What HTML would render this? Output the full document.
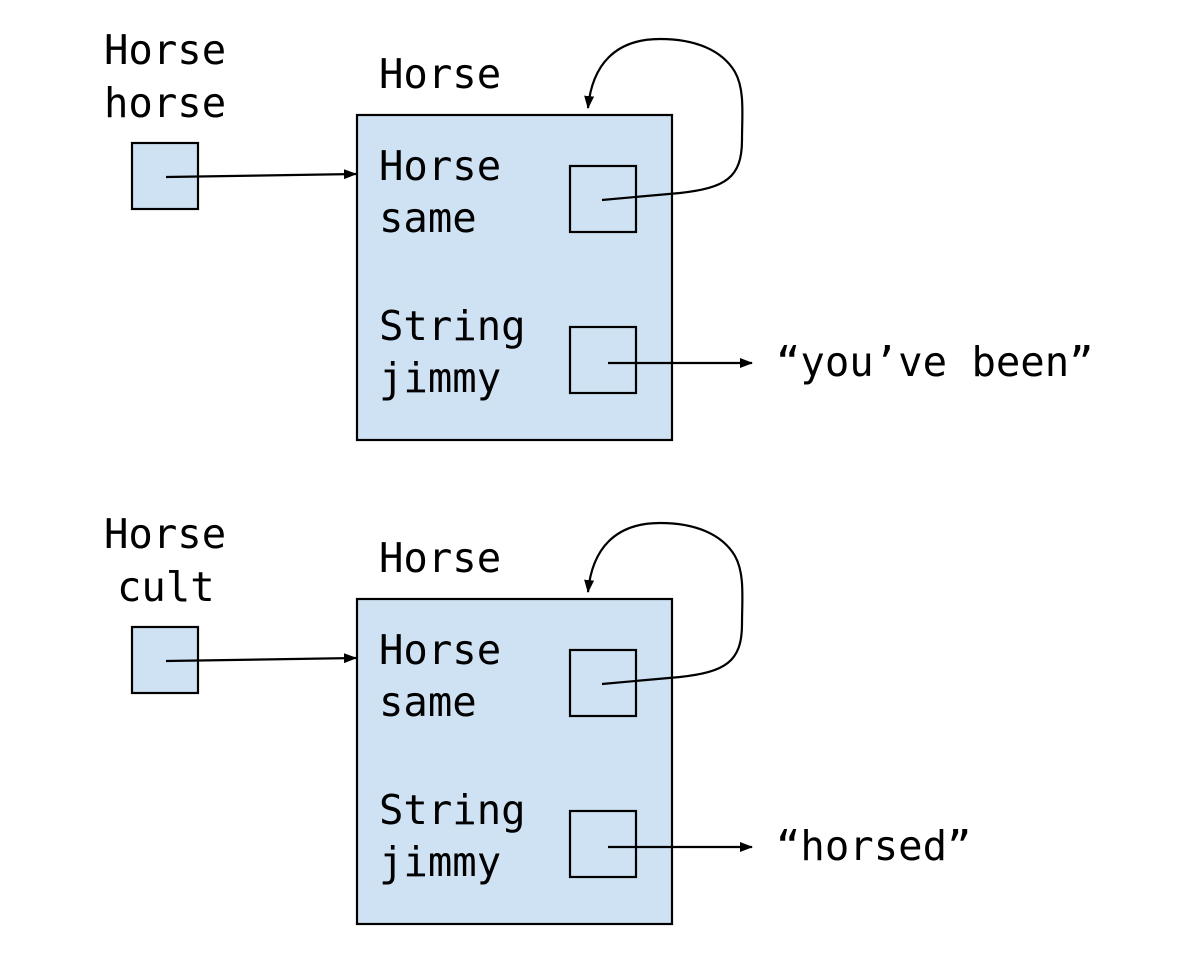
<!DOCTYPE html>
<html><head><meta charset="utf-8"><style>
html,body{margin:0;padding:0;background:#fff;}
svg text{font-family:"DejaVu Sans Mono","Liberation Mono",monospace;font-size:40.6px;fill:#000;}
</style></head><body>
<svg width="1200" height="960" viewBox="0 0 1200 960" xmlns="http://www.w3.org/2000/svg">
<defs>
<marker id="a" markerWidth="13" markerHeight="10" refX="12" refY="5" orient="auto" markerUnits="userSpaceOnUse">
<path d="M0,0 L13,5 L0,10 Z" fill="#000"/></marker>
</defs>
<g id="top">
<text x="104" y="64">Horse</text>
<text x="104" y="117">horse</text>
<rect x="132" y="143" width="66" height="66" fill="#cfe2f3" stroke="#000" stroke-width="2.2"/>
<line x1="166" y1="177" x2="356" y2="174" stroke="#000" stroke-width="2.2" marker-end="url(#a)"/>
<text x="379" y="88">Horse</text>
<rect x="357" y="115" width="315" height="325" fill="#cfe2f3" stroke="#000" stroke-width="2.2"/>
<text x="379" y="180">Horse</text>
<text x="379" y="232">same</text>
<rect x="570" y="166" width="66" height="66" fill="#cfe2f3" stroke="#000" stroke-width="2.2"/>
<path d="M602,200 L680,193 C725,188 742,178 742,140 C742,115 745,90 735,72 C722,50 695,39 660,39 C615,39 592,65 588,108" fill="none" stroke="#000" stroke-width="2.2" marker-end="url(#a)"/>
<text x="379" y="340">String</text>
<text x="379" y="392">jimmy</text>
<rect x="570" y="327" width="66" height="66" fill="#cfe2f3" stroke="#000" stroke-width="2.2"/>
<line x1="608" y1="363" x2="752" y2="363" stroke="#000" stroke-width="2.2" marker-end="url(#a)"/>
<text x="776" y="376">“you’ve been”</text>
</g>
<g transform="translate(0,484)">
<text x="104" y="64">Horse</text>
<text x="117" y="117">cult</text>
<rect x="132" y="143" width="66" height="66" fill="#cfe2f3" stroke="#000" stroke-width="2.2"/>
<line x1="166" y1="177" x2="356" y2="174" stroke="#000" stroke-width="2.2" marker-end="url(#a)"/>
<text x="379" y="88">Horse</text>
<rect x="357" y="115" width="315" height="325" fill="#cfe2f3" stroke="#000" stroke-width="2.2"/>
<text x="379" y="180">Horse</text>
<text x="379" y="232">same</text>
<rect x="570" y="166" width="66" height="66" fill="#cfe2f3" stroke="#000" stroke-width="2.2"/>
<path d="M602,200 L680,193 C725,188 742,178 742,140 C742,115 745,90 735,72 C722,50 695,39 660,39 C615,39 592,65 588,108" fill="none" stroke="#000" stroke-width="2.2" marker-end="url(#a)"/>
<text x="379" y="340">String</text>
<text x="379" y="392">jimmy</text>
<rect x="570" y="327" width="66" height="66" fill="#cfe2f3" stroke="#000" stroke-width="2.2"/>
<line x1="608" y1="363" x2="752" y2="363" stroke="#000" stroke-width="2.2" marker-end="url(#a)"/>
<text x="776" y="376">“horsed”</text>
</g>
</svg>
</body></html>
